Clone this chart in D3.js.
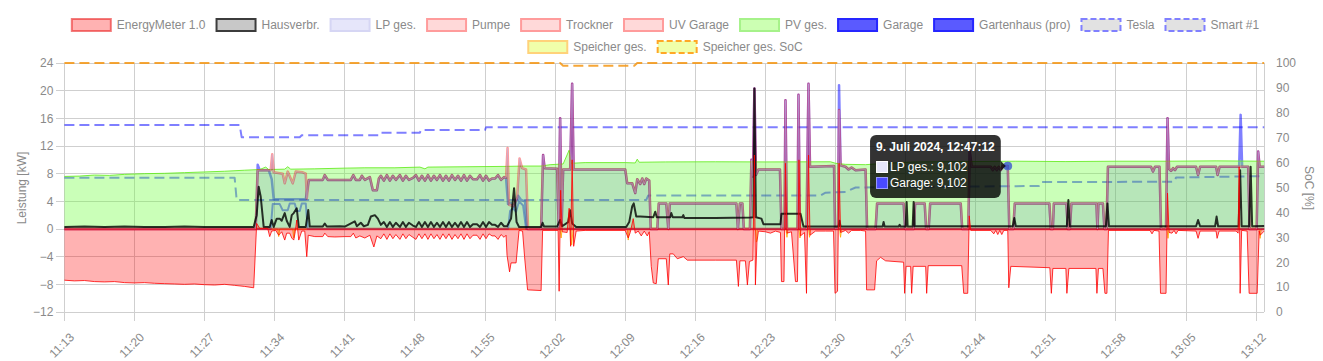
<!DOCTYPE html>
<html>
<head>
<meta charset="utf-8">
<script src="https://cdn.jsdelivr.net/npm/d3@7"></script>
<style>
  body { margin: 0; background: #fff; }
  svg { display: block; font-family: "Liberation Sans", Arial, Helvetica, sans-serif; }
</style>
</head>
<body>
<svg id="chart"></svg>
<script>
// every point is [minutes after 11:13:00, value]

const xTickLabels = ["11:13","11:20","11:27","11:34","11:41","11:48","11:55","12:02","12:09",
  "12:16","12:23","12:30","12:37","12:44","12:51","12:58","13:05","13:12"];
const leftTicks = [-12, -8, -4, 0, 4, 8, 12, 16, 20, 24];
const rightTicks = [0, 10, 20, 30, 40, 50, 60, 70, 80, 90, 100];

const legendNames = ["EnergyMeter 1.0", "Hausverbr.", "LP ges.", "Pumpe", "Trockner", "UV Garage",
  "PV ges.", "Garage", "Gartenhaus (pro)", "Tesla", "Smart #1", "Speicher ges.", "Speicher ges. SoC"];

// PV ges. [kW]
const pvGes = [[0,7.6],[1.5,7.65],[3,7.8],[4.5,7.75],[6,7.9],[8,8.0],[10,8.05],[12,8.15],[14,8.25],
  [16,8.35],[18,8.5],[19.5,8.6],[20.1,8.95],[20.4,8.6],[22,8.65],[22.3,9.0],[22.6,8.65],[25,8.7],
  [28,8.8],[30,8.85],[33,8.85],[35.5,8.95],[36,8.7],[36.3,8.95],[40,9.0],[44,9.05],[46,9.1],
  [47.6,9.1],[48.5,9.3],[49.8,9.4],[50.4,11.4],[50.6,9.5],[52,9.6],[56,9.6],[57.0,9.55],[57.2,10.1],
  [57.4,9.65],[60,9.7],[65,9.72],[70,9.7],[76.5,9.72],[77,9.5],[78,9.35],[80,9.3],[82,9.5],[85,9.7],
  [90,9.75],[95,9.8],[100,9.75],[105,9.8],[110,9.8],[115,9.85],[119.8,9.8]];

// EnergyMeter 1.0 (grid) [kW]
const energyMeter = [[0,-7.4],[1,-7.5],[2,-7.45],[3,-7.6],[4,-7.65],[5,-7.6],[6,-7.75],[7,-7.8],
  [8,-7.75],[9,-7.85],[10,-7.9],[11,-7.95],[12,-8.0],[13,-7.95],[14,-8.05],[15,-8.1],[16,-8.0],
  [17,-8.15],[18,-8.3],[18.9,-8.5],[19.2,0.8],[19.5,0.1],[20.3,0.1],[20.5,-1.1],[20.7,-0.3],
  [21.1,-0.2],[21.4,-0.9],[21.7,-0.4],[22.0,-1.6],[22.2,-0.6],[22.5,-0.6],[22.7,-1.3],[22.9,-1.6],
  [23.05,-0.4],[23.2,1.3],[23.4,-1.6],[23.7,-0.3],[24.0,-0.3],[24.2,-4.0],[24.35,-0.9],[25.0,-1.1],
  [25.8,-1.1],[26.0,-0.6],[26.3,-1.1],[27,-1.15],[28,-1.1],[28.6,-1.1],[28.85,-0.6],[29.1,-1.3],
  [29.5,-1.0],[30.0,-1.3],[30.5,-0.9],[30.9,-2.6],[31.2,-1.0],[31.6,-1.4],[31.9,-0.7],[32.2,-1.5],
  [32.5,-0.7],[32.8,-1.4],[33.1,-0.8],[33.5,-1.5],[33.8,-0.7],[34.1,-1.4],[34.4,-0.8],[34.8,-1.2],
  [35.1,-1.5],[35.4,-0.7],[35.7,-1.4],[36.0,-0.7],[36.3,-1.5],[36.6,-0.7],[36.9,-1.4],[37.2,-0.8],
  [37.5,-1.5],[37.8,-0.7],[38.1,-1.4],[38.4,-0.7],[38.7,-1.5],[39.0,-0.8],[39.3,-1.4],[39.6,-0.7],
  [39.9,-1.5],[40.2,-0.7],[40.5,-1.4],[40.8,-0.9],[41.2,-0.9],[41.5,-1.5],[41.8,-0.7],[42.1,-1.4],
  [42.4,-0.7],[42.7,-1.0],[43.0,-1.0],[43.3,-1.5],[43.6,-0.8],[43.9,-1.2],[44.1,-0.9],[44.2,-3.8],
  [44.45,-6.2],[44.6,-4.9],[45.1,-4.9],[45.4,-0.2],[45.75,-0.3],[45.95,-4.0],[46.25,-8.8],[47.6,-8.9],
  [47.75,-0.2],[49.3,-0.2],[49.4,-9.0],[49.55,5.6],[49.7,-0.4],[50.2,-0.5],[50.4,3.0],[50.55,-2.5],
  [50.7,10.0],[50.85,-2.5],[51.1,-0.3],[52,-0.2],[56,-0.2],[56.3,-1.3],[56.5,-0.5],[56.8,1.5],
  [57.0,-0.6],[57.3,-0.3],[57.6,-1.0],[57.9,-0.3],[58.2,-1.0],[58.4,-0.4],[58.6,-5.4],[58.8,-7.8],
  [59.1,-7.9],[59.3,-4.3],[60.1,-4.3],[60.3,-8.1],[60.45,-3.6],[60.8,-3.6],[61.2,-4.3],[61.8,-4.0],
  [62.2,-4.5],[65,-4.5],[67.1,-4.5],[67.3,-8.3],[67.45,-4.6],[68.0,-4.6],[68.2,-8.1],[68.4,-4.7],
  [68.75,-4.5],[68.9,10.7],[69.0,-8.1],[69.15,-1.9],[69.3,-0.3],[70,-0.4],[70.5,-0.6],[71,-0.3],
  [71.5,-0.5],[71.6,-7.6],[71.85,-7.6],[72.0,9.5],[72.15,-0.6],[72.6,-0.4],[73.0,-7.6],[73.2,-7.6],
  [73.35,10.0],[73.5,-1.0],[73.9,-0.5],[74.1,-9.3],[74.3,10.7],[74.45,-0.9],[75,-0.3],[76,-0.3],
  [76.8,-0.3],[76.95,-9.3],[77.2,-9.0],[77.35,9.5],[77.5,-0.5],[78,-0.2],[78.3,-0.6],[78.6,-0.2],
  [79.5,-0.2],[80.0,-0.3],[80.1,-8.8],[80.9,-8.8],[81.1,-4.6],[81.5,-4.1],[82,-4.6],[83.8,-4.8],
  [83.9,-9.3],[84.05,-5.4],[84.5,-5.4],[84.6,-9.3],[84.75,-5.4],[86.0,-5.4],[86.1,-9.3],[86.25,-5.3],
  [89.6,-5.3],[89.8,-9.3],[90.2,-9.3],[90.35,1.9],[90.5,-0.2],[92.5,-0.2],[92.8,-0.7],[93.0,-0.2],
  [93.2,-0.8],[93.4,-0.2],[93.6,-0.8],[93.8,-0.2],[94.2,-0.2],[94.3,-8.5],[94.5,-5.4],[98.4,-5.6],
  [98.55,-9.3],[98.7,-5.7],[100.0,-5.7],[100.1,-9.3],[100.3,-5.7],[103.0,-5.7],[103.1,-9.3],
  [103.25,-5.7],[103.7,-5.7],[103.9,-9.3],[104.1,-9.3],[104.25,-0.2],[108.4,-0.2],[108.6,-0.7],
  [108.8,-0.2],[109.3,-0.3],[109.45,-9.3],[110.0,-9.3],[110.15,5.2],[110.3,-0.5],[110.6,-0.6],
  [110.8,-0.2],[111.0,-0.7],[111.2,-0.2],[113.0,-0.3],[113.2,-1.35],[113.4,-0.3],[115.0,-0.3],
  [115.1,-1.35],[115.3,-0.3],[117.0,-0.3],[117.2,-0.6],[117.3,9.0],[117.4,-9.3],[117.55,-0.2],
  [118.1,-0.3],[118.3,-9.3],[119.1,-9.3],[119.3,-0.3],[119.4,-0.9],[119.8,-0.3]];

// Hausverbr. [kW]
const hausverbr = [[0,0.3],[2,0.35],[4,0.3],[6,0.35],[8,0.3],[10,0.3],[12,0.35],[14,0.3],[16,0.3],
  [18.9,0.3],[19.2,2.0],[19.4,6.1],[19.6,4.7],[19.9,0.3],[20.5,0.3],[20.7,1.3],[20.9,0.3],[21.2,1.5],
  [21.5,1.5],[21.7,1.2],[22.0,2.3],[22.2,1.2],[22.5,0.3],[22.7,2.0],[22.9,2.3],[23.2,3.0],[23.4,0.3],
  [24.1,0.3],[24.35,2.75],[24.5,0.35],[25.8,0.35],[26.0,0.8],[26.2,0.35],[27.5,0.4],[28.0,0.35],
  [29.0,1.1],[29.2,0.4],[29.6,0.9],[29.9,0.4],[30.3,0.6],[30.6,1.8],[31.0,2.0],[31.3,1.5],[31.6,0.6],
  [31.9,1.0],[32.2,0.3],[32.5,1.0],[32.8,0.3],[33.1,0.9],[33.5,0.3],[33.8,1.0],[34.1,0.3],[34.4,0.9],
  [34.8,0.5],[35.1,0.3],[35.4,1.0],[35.7,0.3],[36.0,1.0],[36.3,0.3],[36.6,1.0],[36.9,0.3],[37.2,0.9],
  [37.5,0.3],[37.8,1.0],[38.1,0.3],[38.4,1.0],[38.7,0.3],[39.0,0.9],[39.3,0.3],[39.6,1.0],[39.9,0.3],
  [40.2,1.0],[40.5,0.3],[40.8,0.7],[41.2,0.7],[41.5,0.3],[41.8,1.0],[42.1,0.3],[42.4,1.0],[42.7,0.6],
  [43.0,0.6],[43.3,0.3],[43.6,0.9],[43.9,0.4],[44.2,0.4],[44.6,1.5],[44.9,5.9],[45.15,1.0],[45.4,0.3],
  [47.6,0.3],[47.75,0.9],[47.9,0.35],[49.2,0.35],[49.5,1.3],[49.7,0.4],[50.3,1.0],[50.5,2.7],
  [50.7,0.8],[51.1,0.3],[56.1,0.3],[56.4,1.0],[56.7,3.3],[56.85,3.7],[57.1,1.8],[57.5,1.8],[58.8,1.7],
  [59.0,2.5],[59.15,1.7],[60.5,1.7],[60.6,2.3],[60.75,1.7],[61.7,1.7],[61.8,2.0],[61.9,1.6],[65,1.6],
  [68.5,1.65],[68.8,1.7],[68.9,20.3],[69.05,1.7],[69.6,1.5],[69.8,0.7],[71.5,0.7],[71.6,2.2],
  [73.5,2.2],[73.8,0.35],[77.3,0.35],[77.4,1.2],[77.5,0.35],[81.7,0.35],[81.8,1.0],[81.9,0.35],
  [83.3,0.35],[83.4,0.6],[83.5,0.35],[84.0,0.35],[84.1,3.9],[84.2,0.35],[84.7,0.35],[84.8,3.9],
  [84.9,0.4],[94.7,0.4],[94.85,1.6],[95.0,0.4],[100.1,0.4],[100.25,4.2],[100.4,0.4],[104.0,0.4],
  [104.15,3.7],[104.3,0.4],[113.0,0.4],[113.2,1.3],[113.4,0.4],[114.9,0.4],[115.05,1.8],[115.2,0.4],
  [117.25,0.4],[117.4,8.5],[117.55,0.4],[118.3,0.4],[118.45,9.0],[118.6,0.4],[119.8,0.45]];

// UV Garage [kW]; the LP ges. trace lies on the same line in the picture
const uvGarage = [[0,0],[19.1,0],[19.3,8.5],[20.6,8.5],[20.75,10.8],[20.9,8.2],[21.8,8.0],[22.0,6.6],
  [22.3,8.3],[22.8,6.6],[23.1,8.3],[23.8,8.2],[24.1,8.0],[24.2,4.4],[24.4,7.1],[25.8,7.1],[26.0,7.8],
  [26.3,7.1],[28.6,7.1],[28.85,7.8],[29.1,7.1],[29.5,7.1],[29.7,7.7],[30.0,7.1],[30.5,7.5],[30.8,5.6],
  [31.2,5.6],[31.4,7.3],[31.6,7.7],[31.9,7.0],[32.2,7.8],[32.5,7.0],[32.8,7.7],[33.1,7.1],[33.5,7.8],
  [33.8,7.0],[34.1,7.7],[34.4,7.1],[34.8,7.4],[35.1,7.8],[35.4,7.0],[35.7,7.7],[36.0,7.0],[36.3,7.8],
  [36.6,7.0],[36.9,7.7],[37.2,7.1],[37.5,7.8],[37.8,7.0],[38.1,7.7],[38.4,7.0],[38.7,7.8],[39.0,7.1],
  [39.3,7.7],[39.6,7.0],[39.9,7.8],[40.2,7.0],[40.5,7.7],[40.8,7.2],[41.2,7.2],[41.5,7.8],[41.8,7.0],
  [42.1,7.7],[42.4,7.0],[42.7,7.3],[43.0,7.3],[43.3,7.8],[43.6,7.1],[43.9,7.5],[44.1,7.4],[44.25,11.7],
  [44.4,3.5],[44.8,3.3],[45.2,4.5],[45.45,10.2],[45.7,8.8],[46.1,8.6],[46.3,0],[47.6,0],[47.8,10.7],
  [47.95,8.8],[49.2,8.7],[49.35,0.3],[49.5,16.0],[49.65,0.5],[49.8,8.6],[50.5,8.6],[50.7,21.0],
  [50.85,8.6],[56.0,8.6],[56.2,6.6],[56.7,6.6],[57.0,5.2],[57.2,7.2],[57.5,6.5],[57.7,7.3],[57.9,6.5],
  [58.1,7.3],[58.4,7.0],[58.55,0],[59.2,0],[59.35,3.7],[60.1,3.7],[60.3,0],[60.45,3.7],[67.1,3.7],
  [67.25,0],[67.45,3.7],[67.7,3.7],[67.85,0],[68.45,0],[68.6,10.0],[68.75,7.6],[68.9,20.3],[69.05,7.8],
  [69.3,8.6],[71.45,8.6],[71.6,0],[71.9,0],[72.0,18.6],[72.15,0],[73.2,0],[73.3,19.4],[73.45,0],
  [74.1,0],[74.3,21.0],[74.45,9.0],[76.85,9.1],[76.95,0.1],[77.25,0.1],[77.35,17.2],[77.5,9.2],
  [78.0,9.0],[78.3,8.6],[78.6,8.9],[79.0,8.5],[80.0,8.6],[80.15,0],[81.0,0],[81.15,3.7],[83.8,3.7],
  [83.95,0],[84.8,0],[84.95,3.7],[85.9,3.7],[86.05,0],[86.3,0],[86.45,3.7],[89.5,3.7],[89.65,0],
  [90.25,0],[90.4,11.2],[90.6,9.0],[92.5,9.0],[92.7,8.5],[92.9,9.0],[93.1,8.5],[93.3,9.0],[93.5,8.5],
  [93.7,9.1],[94.2,9.1],[94.35,0],[94.75,0],[94.9,3.7],[98.35,3.7],[98.5,0],[98.7,0],[98.8,3.7],
  [100.05,3.7],[100.2,0],[100.4,0],[100.55,3.7],[103.05,3.7],[103.15,0],[103.25,3.7],[103.7,3.7],
  [103.85,0],[104.05,0],[104.2,9.0],[108.5,9.0],[108.7,8.3],[108.9,9.0],[109.35,9.0],[109.5,0],
  [110.0,0],[110.15,16.0],[110.3,8.7],[110.5,8.4],[110.7,8.8],[110.9,8.5],[111.1,9.0],[113.0,9.0],
  [113.2,7.8],[113.4,9.0],[115.0,9.0],[115.15,7.8],[115.35,9.0],[118.2,9.0],[118.35,0],[119.05,0],
  [119.2,11.2],[119.35,9.0],[119.8,9.0]];
const lpGes = uvGarage;

// Garage [kW]
const garage = [[0,0],[19.1,0],[19.3,9.3],[19.5,8.5],[20.4,8.5],[20.7,7.2],[20.9,4.3],[24.1,4.3],
  [24.4,7.1],[25.8,7.1],[26.0,7.8],[26.3,7.1],[28.6,7.1],[28.85,7.8],[29.1,7.1],[29.5,7.1],[29.7,7.7],
  [30.0,7.1],[30.5,7.5],[30.8,5.6],[31.2,5.6],[31.4,7.3],[31.6,7.7],[31.9,7.0],[32.2,7.8],[32.5,7.0],
  [32.8,7.7],[33.1,7.1],[33.5,7.8],[33.8,7.0],[34.1,7.7],[34.4,7.1],[34.8,7.4],[35.1,7.8],[35.4,7.0],
  [35.7,7.7],[36.0,7.0],[36.3,7.8],[36.6,7.0],[36.9,7.7],[37.2,7.1],[37.5,7.8],[37.8,7.0],[38.1,7.7],
  [38.4,7.0],[38.7,7.8],[39.0,7.1],[39.3,7.7],[39.6,7.0],[39.9,7.8],[40.2,7.0],[40.5,7.7],[40.8,7.2],
  [41.2,7.2],[41.5,7.8],[41.8,7.0],[42.1,7.7],[42.4,7.0],[42.7,7.3],[43.0,7.3],[43.3,7.8],[43.6,7.1],
  [43.9,7.5],[44.1,7.4],[44.3,3.6],[44.6,3.8],[44.9,3.2],[45.3,4.8],[45.6,4.2],[46.0,4.0],[46.2,0],
  [47.6,0],[47.8,10.7],[47.95,8.8],[49.2,8.7],[49.35,0.3],[49.5,16.0],[49.65,0.5],[49.8,8.6],
  [50.5,8.6],[50.7,21.0],[50.85,8.6],[56.0,8.6],[56.2,6.6],[56.7,6.6],[57.0,5.2],[57.2,7.2],[57.5,6.5],
  [57.7,7.3],[57.9,6.5],[58.1,7.3],[58.4,7.0],[58.55,0],[59.2,0],[59.35,3.7],[60.1,3.7],[60.3,0],
  [60.45,3.7],[67.1,3.7],[67.25,0],[67.45,3.7],[67.7,3.7],[67.85,0],[68.45,0],[68.6,10.0],[68.75,7.6],
  [68.9,20.3],[69.05,7.8],[69.3,8.6],[71.45,8.6],[71.6,0],[71.9,0],[72.0,18.6],[72.15,0],[73.2,0],
  [73.3,19.4],[73.45,0],[74.1,0],[74.3,21.0],[74.45,9.0],[76.85,9.1],[76.95,0.1],[77.25,0.1],
  [77.35,20.8],[77.5,9.2],[78.0,9.0],[78.3,8.6],[78.6,8.9],[79.0,8.5],[80.0,8.6],[80.15,0],[81.0,0],
  [81.15,3.7],[83.8,3.7],[83.95,0],[84.8,0],[84.95,3.7],[85.9,3.7],[86.05,0],[86.3,0],[86.45,3.7],
  [89.5,3.7],[89.65,0],[90.25,0],[90.4,11.2],[90.6,9.0],[92.5,9.0],[92.7,8.5],[92.9,9.0],[93.1,8.5],
  [93.3,9.0],[93.5,8.5],[93.7,9.1],[94.2,9.102],[94.35,0],[94.75,0],[94.9,3.7],[98.35,3.7],[98.5,0],
  [98.7,0],[98.8,3.7],[100.05,3.7],[100.2,0],[100.4,0],[100.55,3.7],[103.05,3.7],[103.15,0],
  [103.25,3.7],[103.7,3.7],[103.85,0],[104.05,0],[104.2,9.0],[108.5,9.0],[108.7,8.3],[108.9,9.0],
  [109.35,9.0],[109.5,0],[110.0,0],[110.15,16.0],[110.3,8.7],[110.5,8.4],[110.7,8.8],[110.9,8.5],
  [111.1,9.0],[113.0,9.0],[113.2,7.8],[113.4,9.0],[115.0,9.0],[115.15,7.8],[115.35,9.0],[117.3,9.0],
  [117.45,16.5],[117.6,9.0],[118.2,9.0],[118.35,0],[119.05,0],[119.2,11.2],[119.35,9.0],[119.8,9.0]];

// Gartenhaus (pro) [kW]
const gartenhaus = [[0,0],[20.6,0],[20.8,3.6],[21.5,3.6],[21.8,2.7],[22.3,2.7],[22.5,3.7],[23.0,3.7],
  [23.2,2.6],[23.5,2.6],[23.7,3.7],[24.1,3.7],[24.3,0],[44.3,0],[44.5,2.6],[44.8,3.0],[45.1,2.5],
  [45.4,4.0],[45.8,3.4],[46.1,0],[119.8,0]];

// Pumpe, Trockner [kW]
const pumpe = [[0,0],[119.8,0]];
const trockner = [[0,0],[119.8,0]];

// Speicher ges. [kW]
const speicher = [[0,0],[21.3,0],[21.4,-1.1],[21.5,0],[22.8,0],[22.9,-1.3],[23.0,0],[49.5,0],
  [49.6,-1.3],[49.7,0],[50.55,0],[50.65,-2.3],[50.8,0],[56.2,0],[56.3,-1.6],[56.4,0],[69.0,0],
  [69.1,-1.9],[69.2,0],[72.05,0],[72.15,-1.2],[72.25,0],[73.35,0],[73.45,-1.3],[73.55,0],[74.3,0],
  [74.4,-1.2],[74.5,0],[77.4,0],[77.5,-1.2],[77.6,0],[110.1,0],[110.2,-1.35],[110.3,0],[119.3,0],
  [119.4,-1.35],[119.5,0],[119.8,0]];

// SoC series [%]
const teslaSoc = [[0,53.9],[17.0,53.9],[17.2,45.0],[58.1,45.0],[58.3,46.8],[75.5,46.8],[76,47.9],
  [78,48.2],[79,50.0],[97.3,50.6],[97.5,52.2],[110.8,52.3],[111,54.0],[119.8,54.6]];
const smartSoc = [[0,75.1],[17.5,75.1],[17.7,70.2],[23.5,70.2],[23.7,71.0],[31.5,71.0],[31.6,72.0],
  [35.5,72.0],[35.6,73.1],[42.0,73.1],[42.1,74.2],[119.8,74.2]];
const speicherSoc = [[0,100],[49.5,100],[49.8,98.9],[56.9,98.9],[57.2,100],[119.8,100]];

// tooltip
const tooltipTitle = "9. Juli 2024, 12:47:12";
const tooltipTime = 94.2;
const tooltipValue = 9.102;
const tooltipRows = [["LP ges.", "9,102"], ["Garage", "9,102"]];

// ------------------------------------------------------------------
var width = 1323, height = 361;
var plot = {left: 64.4, right: 1264, top: 63, bottom: 312};
var t0 = new Date(2024, 6, 9, 11, 13, 0);
function at(m) { return new Date(t0.getTime() + m * 60000); }

var svg = d3.select("#chart").attr("width", width).attr("height", height);

var x = d3.scaleTime()
    .domain([t0, new Date(2024, 6, 9, 13, 12, 47)])
    .range([plot.left, plot.right]);
var y = d3.scaleLinear().domain([-12, 24]).range([plot.bottom, plot.top]);
var ySoc = d3.scaleLinear().domain([0, 100]).range([plot.bottom, plot.top]);

var tickDates = xTickLabels.map(function(s) {
    var p = s.split(":");
    return new Date(2024, 6, 9, +p[0], +p[1]);
});

var gridColor = "#cfcfcf", textColor = "#8a8a8a";

// grid
svg.append("g").selectAll("line").data(leftTicks).join("line")
    .attr("x1", plot.left - 8).attr("x2", plot.right)
    .attr("y1", function(d) { return y(d); }).attr("y2", function(d) { return y(d); })
    .attr("stroke", gridColor).attr("stroke-width", 1).attr("shape-rendering", "crispEdges");
svg.append("g").selectAll("line").data(tickDates).join("line")
    .attr("x1", function(d) { return x(d); }).attr("x2", function(d) { return x(d); })
    .attr("y1", plot.top).attr("y2", plot.bottom + 9)
    .attr("stroke", gridColor).attr("stroke-width", 1).attr("shape-rendering", "crispEdges");
[plot.left, plot.right].forEach(function(px) {
    svg.append("line").attr("x1", px).attr("x2", px).attr("y1", plot.top).attr("y2", plot.bottom)
        .attr("stroke", gridColor).attr("shape-rendering", "crispEdges");
});

// axes
var gl = svg.append("g").attr("transform", "translate(" + plot.left + ",0)")
    .call(d3.axisLeft(y).tickValues(leftTicks).tickSize(0).tickPadding(11));
var gr = svg.append("g").attr("transform", "translate(" + plot.right + ",0)")
    .call(d3.axisRight(ySoc).tickValues(rightTicks).tickSize(0).tickPadding(12));
var gb = svg.append("g").attr("transform", "translate(0," + plot.bottom + ")")
    .call(d3.axisBottom(x).tickValues(tickDates).tickSize(0).tickFormat(d3.timeFormat("%H:%M")));
[gl, gr, gb].forEach(function(g) {
    g.select(".domain").remove();
    g.selectAll("text").attr("fill", textColor).attr("font-size", 12)
        .attr("font-family", "Liberation Sans, Arial, sans-serif");
});
gb.selectAll(".tick text")
    .attr("text-anchor", "end")
    .attr("y", 0).attr("dy", "0.35em")
    .attr("transform", "translate(7,23) rotate(-45)");

svg.append("text").attr("transform", "translate(26,188) rotate(-90)")
    .attr("text-anchor", "middle").attr("fill", textColor).attr("font-size", 12)
    .text("Leistung [kW]");
svg.append("text").attr("transform", "translate(1305,188) rotate(90)")
    .attr("text-anchor", "middle").attr("fill", textColor).attr("font-size", 12)
    .text("SoC [%]");

// series
var plotArea = svg.append("g");
function lineOf(scale) {
    return d3.line().x(function(d) { return x(at(d[0])); }).y(function(d) { return scale(d[1]); });
}
var area = d3.area()
    .x(function(d) { return x(at(d[0])); })
    .y0(y(0))
    .y1(function(d) { return y(d[1]); });

function drawFill(data, fill) {
    plotArea.append("path").datum(data).attr("d", area).attr("fill", fill).attr("stroke", "none");
}
function drawLine(data, scale, color, w, dash) {
    plotArea.append("path").datum(data).attr("d", lineOf(scale))
        .attr("fill", "none").attr("stroke", color).attr("stroke-width", w)
        .attr("stroke-linejoin", "round")
        .attr("stroke-dasharray", dash || null);
}

// drawn from last dataset to first, like the original chart
drawLine(speicherSoc, ySoc, "rgba(245,150,20,0.85)", 2, "10,5");
drawFill(speicher, "rgba(225,255,80,0.35)");
drawLine(speicher, y, "rgba(255,165,0,0.8)", 1);
drawLine(smartSoc, ySoc, "rgba(0,0,255,0.5)", 2, "10,5");
drawLine(teslaSoc, ySoc, "rgba(0,0,255,0.5)", 2, "10,5");
drawLine(gartenhaus, y, "rgba(0,0,255,0.5)", 2);
drawLine(garage, y, "rgba(0,0,255,0.5)", 2.5);
drawFill(pvGes, "rgba(102,255,51,0.35)");
drawLine(pvGes, y, "rgba(100,235,30,0.85)", 1);
drawLine(uvGarage, y, "rgba(255,0,0,0.4)", 2.5);
drawLine(trockner, y, "rgba(255,0,0,0.35)", 2.5);
drawLine(pumpe, y, "rgba(255,0,0,0.35)", 2.5);
drawFill(lpGes, "rgba(50,50,200,0.12)");
drawLine(lpGes, y, "rgba(190,190,235,0.4)", 1);
drawLine(hausverbr, y, "rgba(0,0,0,0.8)", 2);
drawFill(energyMeter, "rgba(255,0,0,0.3)");
drawLine(energyMeter, y, "rgba(255,0,0,0.8)", 1);

// legend
var legendStyles = [
    {fill: "rgba(255,0,0,0.3)", stroke: "rgba(235,40,40,0.6)"},
    {fill: "#c8c8c8", stroke: "#3c3c3c"},
    {fill: "#e6e6fa", stroke: "#d6d6f4"},
    {fill: "#ffd9d9", stroke: "#ff9c9c"},
    {fill: "#ffd9d9", stroke: "#ff9c9c"},
    {fill: "#ffd9d9", stroke: "#ff9c9c"},
    {fill: "#ccffb3", stroke: "#a6f28a"},
    {fill: "#5a5aff", stroke: "#2626ff"},
    {fill: "#5a5aff", stroke: "#2626ff"},
    {fill: "#e2e2e2", stroke: "#8080ff", dash: "6,3"},
    {fill: "#e2e2e2", stroke: "#8080ff", dash: "6,3"},
    {fill: "#f0ffaa", stroke: "#ffd27a"},
    {fill: "#f0ffaa", stroke: "#ffa726", dash: "6,3"}
];
var lg = svg.append("g");
var rows = [[]], rowW = [0];
legendNames.forEach(function(name, i) {
    var t = lg.append("text").attr("font-size", 12).text(name);
    var tw = t.node().getComputedTextLength();
    t.remove();
    var w = 46 + tw;
    var r = rows.length - 1;
    if (rowW[r] + w + (rows[r].length ? 10 : 0) > 1300) { rows.push([]); rowW.push(0); r++; }
    rowW[r] += w + (rows[r].length ? 10 : 0);
    rows[r].push({name: name, tw: tw, style: legendStyles[i]});
});
rows.forEach(function(row, r) {
    var lx = 665 - rowW[r] / 2, ly = 19 + r * 22;
    row.forEach(function(it) {
        lg.append("rect").attr("x", lx + 1).attr("y", ly).attr("width", 39).attr("height", 12)
            .attr("fill", it.style.fill).attr("stroke", it.style.stroke).attr("stroke-width", 2)
            .attr("stroke-dasharray", it.style.dash || null);
        lg.append("text").attr("x", lx + 46).attr("y", ly + 6).attr("dy", "0.35em")
            .attr("font-size", 12).attr("fill", textColor).text(it.name);
        lx += 46 + it.tw + 10;
    });
});

// hover point and tooltip
var px = x(at(tooltipTime)), py = y(tooltipValue);
svg.append("circle").attr("cx", px).attr("cy", py).attr("r", 4)
    .attr("fill", "rgba(40,80,210,0.75)").attr("stroke", "rgba(90,110,200,0.9)").attr("stroke-width", 1);

var tip = svg.append("g");
var tipBox = tip.append("rect").attr("rx", 6).attr("fill", "rgba(0,0,0,0.8)");
var tipCaret = tip.append("path").attr("fill", "rgba(0,0,0,0.8)");
var title = tip.append("text").attr("font-size", 12).attr("font-weight", "bold")
    .attr("fill", "#fff").text(tooltipTitle);
var tw = title.node().getComputedTextLength();
var rowTexts = tooltipRows.map(function(r) {
    return tip.append("text").attr("font-size", 12).attr("fill", "#fff").text(r[0] + ": " + r[1]);
});
rowTexts.forEach(function(t) { tw = Math.max(tw, 14 + t.node().getComputedTextLength()); });
var bw = tw + 12, bh = 63;
var bx = px - 7 - bw, by = 135;
tipBox.attr("x", bx).attr("y", by).attr("width", bw).attr("height", bh);
tipCaret.attr("d", "M" + (bx + bw) + "," + (py - 5) + "L" + (px - 2) + "," + py + "L" + (bx + bw) + "," + (py + 5) + "Z");
title.attr("x", bx + 6).attr("y", by + 12).attr("dy", "0.35em");
var swatches = [{fill: "#e6e6fa", stroke: "#fff"}, {fill: "#4a4aff", stroke: "#9a9aff"}];
rowTexts.forEach(function(t, i) {
    var ry = by + 32 + i * 16;
    tip.append("rect").attr("x", bx + 6.5).attr("y", ry - 5.5).attr("width", 11).attr("height", 11)
        .attr("fill", swatches[i].fill).attr("stroke", swatches[i].stroke).attr("stroke-width", 1);
    t.attr("x", bx + 20).attr("y", ry).attr("dy", "0.35em");
});
</script>
</body>
</html>
